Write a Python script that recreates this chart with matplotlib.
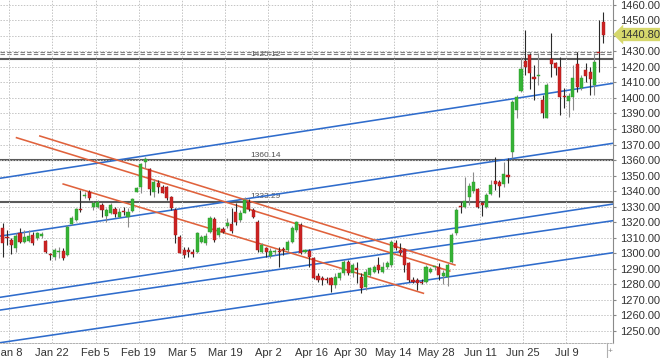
import numpy as np
import matplotlib

matplotlib.use("Agg")
import matplotlib.pyplot as plt
from matplotlib.lines import Line2D
from matplotlib.transforms import blended_transform_factory

plt.rcParams["font.family"] = ["Liberation Sans", "DejaVu Sans"]

# daily OHLC, one value per bar
opens = [
    1316.1, 1310.7, 1308.6, 1303.2, 1312.9, 1307.5, 1307.9, 1311.8, 1309.7, 1311.1,
    1307.9, 1298.9, 1297.4, 1301.0, 1301.7, 1298.9, 1318.9, 1321.4, 1328.5, 1336.9,
    1339.3, 1330.0, 1330.0, 1331.1, 1324.0, 1325.7, 1328.3, 1323.6, 1327.2, 1323.2,
    1327.4, 1339.6, 1342.9, 1359.0, 1354.1, 1339.6, 1345.4, 1342.5, 1342.5, 1336.0,
    1327.9, 1310.3, 1302.1, 1302.1, 1301.0, 1301.0, 1307.5, 1306.4, 1313.9, 1322.1,
    1311.8, 1315.4, 1317.6, 1318.7, 1326.8, 1321.4, 1326.1, 1333.2, 1327.9, 1320.3,
    1301.0, 1303.2, 1298.3, 1301.0, 1301.0, 1302.1, 1302.1, 1307.5, 1315.0, 1318.2,
    1301.0, 1301.7, 1296.8, 1285.4, 1283.9, 1283.5, 1283.9, 1279.6, 1283.9, 1287.1,
    1294.6, 1287.1, 1290.3, 1284.9, 1278.5, 1286.0, 1288.2, 1292.5, 1288.2, 1291.0,
    1292.5, 1306.8, 1302.1, 1302.6, 1293.6, 1282.8, 1282.8, 1281.7, 1281.7, 1288.2,
    1291.0, 1291.4, 1285.4, 1284.9, 1294.6, 1313.3, 1330.4, 1330.0, 1336.0, 1340.3,
    1341.2, 1332.2, 1330.0, 1338.2, 1346.7, 1345.7, 1344.6, 1350.4, 1365.4, 1392.2,
    1404.6, 1423.9, 1427.6, 1413.3, 1414.1, 1398.7, 1386.9, 1424.8, 1422.3, 1419.7,
    1401.2, 1398.2, 1400.8, 1421.8, 1406.2, 1418.0, 1416.9, 1408.3, 1429.5, 1449.0,
]
highs = [
    1319.3, 1315.0, 1309.8, 1312.9, 1316.1, 1315.0, 1315.0, 1313.9, 1313.9, 1313.7,
    1308.6, 1300.0, 1303.2, 1304.3, 1303.2, 1318.2, 1324.0, 1329.0, 1340.7, 1339.6,
    1340.7, 1333.7, 1334.3, 1332.2, 1329.0, 1332.2, 1330.0, 1329.0, 1330.0, 1329.0,
    1335.4, 1342.9, 1358.3, 1362.2, 1354.7, 1347.6, 1347.2, 1344.0, 1343.3, 1336.9,
    1329.0, 1311.8, 1303.9, 1303.9, 1302.8, 1313.9, 1311.8, 1313.1, 1324.0, 1323.2,
    1316.9, 1317.1, 1322.5, 1329.0, 1332.2, 1327.9, 1336.0, 1334.7, 1329.0, 1321.4,
    1306.4, 1304.3, 1303.2, 1302.6, 1304.3, 1304.3, 1308.6, 1317.6, 1321.0, 1319.3,
    1302.6, 1302.6, 1297.8, 1287.1, 1285.4, 1284.9, 1284.9, 1287.1, 1288.2, 1295.7,
    1295.7, 1293.6, 1294.6, 1287.1, 1289.7, 1291.2, 1292.5, 1297.8, 1294.6, 1295.0,
    1308.6, 1308.6, 1306.4, 1303.2, 1294.6, 1284.9, 1283.9, 1283.5, 1292.5, 1291.4,
    1291.8, 1293.6, 1289.3, 1293.6, 1312.9, 1329.0, 1333.2, 1349.3, 1345.0, 1352.5,
    1341.8, 1333.2, 1338.6, 1347.2, 1362.2, 1347.2, 1359.0, 1361.1, 1398.7, 1401.9,
    1426.5, 1443.7, 1428.7, 1421.2, 1428.7, 1401.9, 1409.4, 1441.6, 1423.3, 1426.5,
    1406.2, 1403.0, 1421.2, 1429.7, 1414.7, 1422.3, 1420.1, 1428.7, 1450.1, 1455.5,
]
lows = [
    1297.8, 1305.3, 1299.6, 1301.0, 1306.4, 1306.4, 1307.5, 1305.3, 1308.6, 1309.8,
    1300.4, 1295.7, 1295.7, 1296.8, 1295.7, 1298.3, 1318.2, 1321.0, 1326.8, 1335.4,
    1334.3, 1327.9, 1329.0, 1323.6, 1320.3, 1325.3, 1323.6, 1322.5, 1324.6, 1317.1,
    1326.8, 1339.4, 1339.0, 1354.7, 1337.5, 1336.4, 1339.0, 1338.6, 1334.3, 1327.9,
    1306.4, 1300.0, 1296.8, 1297.8, 1297.8, 1300.0, 1306.4, 1305.3, 1312.9, 1307.5,
    1310.5, 1312.9, 1316.1, 1312.9, 1318.2, 1320.1, 1325.7, 1327.4, 1322.5, 1301.0,
    1300.0, 1297.8, 1296.8, 1298.9, 1291.0, 1298.9, 1301.0, 1306.4, 1313.9, 1299.6,
    1300.0, 1291.4, 1283.5, 1281.7, 1279.6, 1281.1, 1275.3, 1277.5, 1282.8, 1286.0,
    1286.0, 1284.9, 1280.7, 1274.3, 1276.4, 1284.9, 1287.1, 1287.1, 1287.1, 1289.9,
    1291.4, 1302.1, 1298.9, 1288.2, 1281.7, 1280.7, 1276.4, 1280.2, 1280.7, 1287.1,
    1289.3, 1282.8, 1280.2, 1279.0, 1293.9, 1311.8, 1325.7, 1329.0, 1331.1, 1338.6,
    1329.0, 1324.0, 1329.0, 1337.5, 1340.7, 1336.4, 1342.9, 1345.0, 1361.1, 1386.9,
    1404.0, 1414.7, 1405.5, 1398.7, 1408.3, 1387.1, 1386.9, 1413.6, 1414.7, 1389.0,
    1393.3, 1387.9, 1392.2, 1404.0, 1405.1, 1410.4, 1401.9, 1401.9, 1416.9, 1435.1,
]
closes = [
    1306.4, 1309.7, 1305.3, 1311.1, 1307.5, 1310.7, 1311.1, 1306.4, 1312.9, 1312.4,
    1301.0, 1298.7, 1302.1, 1301.7, 1296.8, 1317.1, 1322.5, 1328.3, 1328.1, 1337.5,
    1335.4, 1332.4, 1333.2, 1327.9, 1327.9, 1331.1, 1325.3, 1326.8, 1326.6, 1326.8,
    1334.7, 1341.8, 1357.5, 1360.5, 1341.2, 1346.1, 1342.9, 1339.0, 1335.4, 1329.0,
    1311.8, 1300.4, 1298.9, 1301.0, 1299.6, 1312.9, 1310.7, 1311.1, 1322.5, 1308.6,
    1316.1, 1313.9, 1319.5, 1314.5, 1320.3, 1326.1, 1334.3, 1328.3, 1323.6, 1302.1,
    1305.3, 1301.0, 1301.7, 1301.3, 1300.8, 1302.0, 1307.5, 1316.1, 1319.9, 1300.0,
    1302.1, 1297.8, 1283.9, 1282.8, 1282.8, 1282.8, 1279.6, 1284.9, 1287.1, 1294.6,
    1287.5, 1292.5, 1289.3, 1277.5, 1288.2, 1290.3, 1291.4, 1289.3, 1291.4, 1293.9,
    1307.5, 1303.2, 1300.4, 1292.5, 1282.8, 1281.7, 1280.7, 1280.7, 1291.4, 1289.7,
    1291.2, 1286.0, 1287.3, 1292.5, 1311.8, 1327.9, 1329.6, 1333.7, 1343.5, 1346.1,
    1330.0, 1331.3, 1337.5, 1344.0, 1344.6, 1343.3, 1351.0, 1349.3, 1397.6, 1400.4,
    1418.4, 1419.7, 1415.8, 1412.0, 1414.7, 1390.6, 1408.3, 1421.8, 1419.0, 1400.8,
    1400.4, 1401.2, 1412.6, 1406.8, 1412.6, 1414.1, 1412.0, 1423.3, 1428.7, 1440.8,
]

# first bar of each labelled two-week period
tick_bars = [2, 12, 22, 32, 42, 52, 62, 72, 81, 91, 101, 111, 121, 131]
tick_labels = ["Jan 8", "Jan 22", "Feb 5", "Feb 19", "Mar 5", "Mar 19", "Apr 2",
               "Apr 16", "Apr 30", "May 14", "May 28", "Jun 11", "Jun 25", "Jul 9"]

levels = [1425.12, 1360.14, 1333.29]
bid_ask = [1429.6, 1428.1]
last_price = 1440.80

# trend lines as (bar, price) -> (bar, price)
blue_lines = [
    (-0.6, 1348.3, 141.3, 1409.4),
    (-0.6, 1311.1, 141.3, 1370.8),
    (-0.6, 1271.7, 141.3, 1331.7),
    (-0.6, 1263.5, 141.3, 1321.0),
    (-0.6, 1242.5, 141.3, 1300.4),
]
orange_lines = [
    (3.2, 1374.4, 103.5, 1288.6),
    (8.6, 1375.5, 104.7, 1292.5),
    (14.0, 1344.6, 97.4, 1274.3),
]

W, H = 660, 358
fig = plt.figure(figsize=(W / 100, H / 100), dpi=100)
ax = fig.add_axes([0, 15 / H, 613 / W, 343 / H])

o = np.array(opens)
h = np.array(highs)
l = np.array(lows)
c = np.array(closes)
x = np.arange(len(o))
up = c >= o

ax.grid(True, color="#c4c4c4", linestyle=(0, (1.5, 1.5)), linewidth=0.7, zorder=0)

for lv in levels:
    ax.axhline(lv, color="#5a5a5a", lw=1.5, zorder=1)
    ax.text(60.8, lv + 3.0, f"{lv:.2f}", ha="center", va="center", fontsize=6,
            color="#505050", zorder=1)
for lv in bid_ask:
    ax.axhline(lv, color="#808080", lw=0.8, linestyle=(0, (4, 2)), zorder=1)

for x0, y0, x1, y1 in blue_lines:
    ax.plot([x0, x1], [y0, y1], color="#2f6ccc", lw=1.15, zorder=2)
for x0, y0, x1, y1 in orange_lines:
    ax.plot([x0, x1], [y0, y1], color="#e0623c", lw=1.15, zorder=2)

# candles
ax.vlines(x[up], l[up], h[up], color="#8a8a8a", lw=0.8, zorder=3)
ax.vlines(x[~up], l[~up], h[~up], color="#2a2a2a", lw=0.8, zorder=3)
body_lo = np.minimum(o, c)
body_h = np.maximum(np.abs(c - o), 0.6)
ax.bar(x[up], body_h[up], bottom=body_lo[up], width=0.72, color="#36b336",
       edgecolor="#2a9a2a", linewidth=0.3, zorder=4)
ax.bar(x[~up], body_h[~up], bottom=body_lo[~up], width=0.72, color="#cc2222",
       edgecolor="#a81a1a", linewidth=0.3, zorder=4)

ax.set_xlim(-0.625, 141.3)
ax.set_ylim(1242.3, 1463.0)

yt = np.arange(1250, 1461, 10)
ax.set_yticks(yt)
ax.set_yticklabels(["" if v == 1440 else f"{v:.2f}" for v in yt])
ax.yaxis.tick_right()
ax.tick_params(axis="y", length=2, pad=3, labelsize=8, colors="#888888",
               labelcolor="#333333")
ax.set_xticks(np.array(tick_bars) - 0.5)
ax.set_xticklabels(tick_labels)
ax.tick_params(axis="x", length=0, pad=3.5, labelsize=8, labelcolor="#333333")

for s in ("left", "top"):
    ax.spines[s].set_visible(False)
ax.spines["right"].set_color("#8a8a8a")
ax.spines["right"].set_linewidth(0.8)
ax.spines["bottom"].set_color("#b0b0b0")
ax.spines["bottom"].set_linestyle((0, (1.5, 1.5)))
ax.spines["bottom"].set_linewidth(0.7)

tr = blended_transform_factory(ax.transAxes, ax.transData)
ax.text(1.012, last_price, f"{last_price:.2f}", transform=tr, ha="left", va="center",
        fontsize=8, color="#333333", clip_on=False, zorder=6,
        bbox=dict(boxstyle="larrow,pad=0.15", fc="#d6d86c", ec="none"))

fig.add_artist(Line2D([606.7 / W] * 2, [0, 15 / H], color="#b0b0b0", lw=0.8))
fig.text(610.5 / W, 1 - 352 / H, "+", fontsize=6, color="#888888",
         ha="center", va="center")

fig.savefig("out.png", dpi=100)
